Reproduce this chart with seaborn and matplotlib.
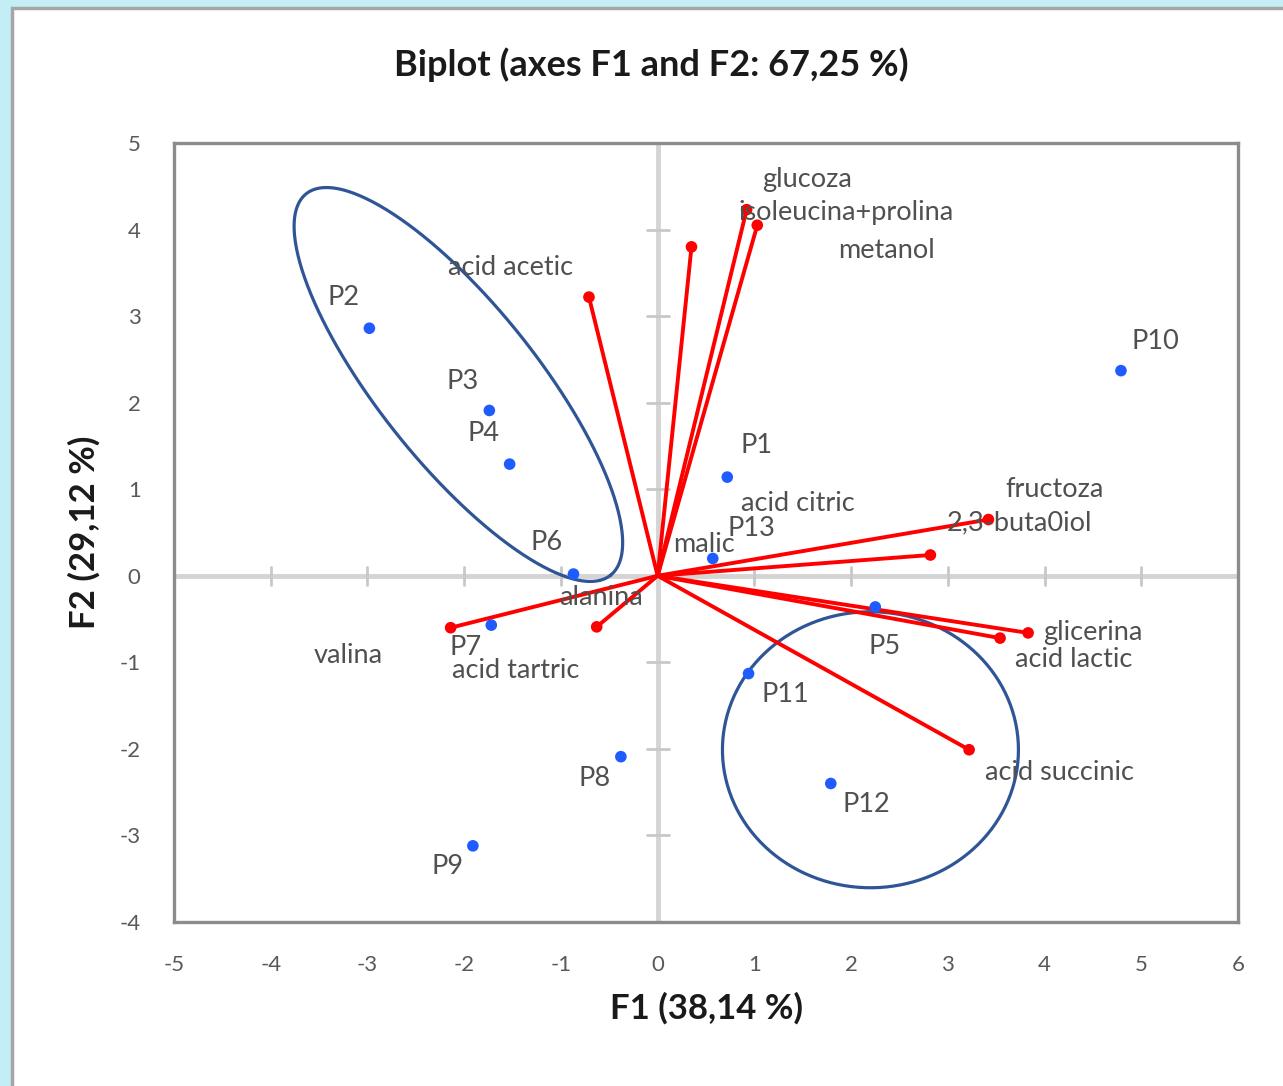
import numpy as np
import pandas as pd
import matplotlib
matplotlib.use("Agg")
import matplotlib.pyplot as plt
from matplotlib.patches import Rectangle
import seaborn as sns

# ---- observations (F1, F2 scores) ----
obs_names = ["P1", "P2", "P3", "P4", "P5", "P6", "P7", "P8", "P9", "P10", "P11", "P12", "P13"]
obs_f1 = [0.72, -2.98, -1.74, -1.53, 2.25, -0.87, -1.72, -0.38, -1.91, 4.79, 0.94, 1.79, 0.57]
obs_f2 = [1.14, 2.86, 1.91, 1.29, -0.36, 0.02, -0.57, -2.09, -3.12, 2.37, -1.13, -2.40, 0.20]

# ---- variable loadings (vector tips) ----
var_names = ["acid acetic", "metanol", "glucoza", "isoleucina+prolina", "2,3-buta0iol",
             "fructoza", "glicerina", "acid lactic", "acid succinic", "valina", "acid tartric"]
var_f1 = [-0.71, 0.35, 0.92, 1.03, 3.42, 2.82, 3.83, 3.54, 3.22, -2.14, -0.63]
var_f2 = [3.22, 3.80, 4.23, 4.05, 0.65, 0.24, -0.66, -0.72, -2.01, -0.60, -0.59]

# ---- where each label is written (data coordinates) ----
obs_label_xy = {
    "P1": (1.02, 1.51), "P2": (-3.25, 3.21), "P3": (-2.02, 2.25), "P4": (-1.80, 1.64),
    "P5": (2.35, -0.82), "P6": (-1.15, 0.38), "P7": (-1.99, -0.83), "P8": (-0.65, -2.34),
    "P9": (-2.17, -3.36), "P10": (5.15, 2.71), "P11": (1.32, -1.37), "P12": (2.16, -2.64),
    "P13": (0.97, 0.55),
}
var_label_xy = {
    "acid acetic": (-1.52, 3.56), "glucoza": (1.54, 4.58), "isoleucina+prolina": (1.95, 4.20),
    "metanol": (2.37, 3.76), "fructoza": (4.10, 1.00), "2,3-buta0iol": (3.74, 0.61),
    "acid citric": (1.45, 0.83), "malic": (0.48, 0.36), "alanina": (-0.59, -0.25),
    "valina": (-3.20, -0.92), "acid tartric": (-1.47, -1.09), "glicerina": (4.50, -0.65),
    "acid lactic": (4.30, -0.97), "acid succinic": (4.15, -2.27),
}

# ---- group ellipses: centre (data), semi-axes (px), rotation (deg) ----
ell_centres = [(-2.06, 2.21), (2.20, -2.01)]
ell_semi = [(244, 79), (148, 138)]
ell_angle = [-51.4, 0.0]

x_ticks = list(range(-5, 7))
y_ticks = list(range(-4, 6))

sns.set_theme(style="white")
plt.rcParams["font.family"] = ["Lato", "DejaVu Sans"]

W, H, DPI = 1283, 1086, 100
fig = plt.figure(figsize=(W / DPI, H / DPI), dpi=DPI, facecolor="#c4eef6")
panel = Rectangle((12 / W, -0.05), 1.1, 1.05 - 8 / H, transform=fig.transFigure,
                  facecolor="white", edgecolor="#a6a6a6", linewidth=2.5, zorder=-10)
fig.patches.append(panel)

L, R, T, B = 174, 1238, 143, 922
ax = fig.add_axes([L / W, 1 - B / H, (R - L) / W, (B - T) / H])
ax.set_zorder(1)
ax.set_xlim(-5, 6)
ax.set_ylim(-4, 5)
ax.set_facecolor("white")
for s in ax.spines.values():
    s.set_color("#8c8c8c")
    s.set_linewidth(2.4)

# zero axes with their small tick marks
ax.axhline(0, color="#d4d4d4", lw=3.5, zorder=1)
ax.axvline(0, color="#d4d4d4", lw=3.5, zorder=1)
px_x = (R - L) / 11.0
px_y = (B - T) / 9.0
for xv in x_ticks:
    if xv not in (-5, 0, 6):
        ax.plot([xv, xv], [-9 / px_y, 9 / px_y], color="#c8c8c8", lw=2, zorder=1)
for yv in y_ticks:
    if yv not in (-4, 0, 5):
        ax.plot([-11 / px_x, 11 / px_x], [yv, yv], color="#c8c8c8", lw=2, zorder=1)

ax.set_xticks(x_ticks)
ax.set_yticks(y_ticks)
ax.set_xticklabels([str(v) for v in x_ticks])
ax.set_yticklabels([str(v) for v in y_ticks])
ax.tick_params(axis="x", length=0, pad=24, labelsize=16, labelcolor="#595959")
ax.tick_params(axis="y", length=0, pad=24, labelsize=16, labelcolor="#595959")
ax.grid(False)

# ellipses
t = np.linspace(0, 2 * np.pi, 400)
for (cx, cy), (a, b), ang in zip(ell_centres, ell_semi, ell_angle):
    th = np.deg2rad(ang)
    dx = a * np.cos(t) * np.cos(th) - b * np.sin(t) * np.sin(th)
    dy = a * np.cos(t) * np.sin(th) + b * np.sin(t) * np.cos(th)
    ax.plot(cx + dx / px_x, cy + dy / px_y, color="#2f5597", lw=2.3, zorder=2)

# loading vectors
vars_df = pd.DataFrame({"F1": var_f1, "F2": var_f2, "name": var_names})
for x1, y1 in zip(var_f1, var_f2):
    ax.plot([0, x1], [0, y1], color="#ff0000", lw=2.8, zorder=3, solid_capstyle="round")
sns.scatterplot(data=vars_df, x="F1", y="F2", ax=ax, color="#ff0000", s=70,
                edgecolor="none", zorder=4, legend=False)

# observations
obs_df = pd.DataFrame({"F1": obs_f1, "F2": obs_f2, "name": obs_names})
sns.scatterplot(data=obs_df, x="F1", y="F2", ax=ax, color="#1f5bff", s=70,
                edgecolor="none", zorder=5, legend=False)

lab_color = "#505050"
for name, (lx, ly) in obs_label_xy.items():
    ax.text(lx, ly, name, ha="center", va="center", fontsize=19.5, color=lab_color, zorder=6)
for name, (lx, ly) in var_label_xy.items():
    ax.text(lx, ly, name, ha="center", va="center", fontsize=19.5, color=lab_color, zorder=6)

ax.set_xlabel("F1 (38,14 %)", fontsize=25, fontweight="bold", color="#1a1a1a", labelpad=12)
ax.set_ylabel("F2 (29,12 %)", fontsize=25, fontweight="bold", color="#1a1a1a", labelpad=14)
fig.text(651 / W, 1 - 65 / H, "Biplot (axes F1 and F2: 67,25 %)", ha="center", va="center",
         fontsize=26, fontweight="bold", color="#1a1a1a")

fig.savefig("out.png", dpi=DPI, facecolor=fig.get_facecolor())
